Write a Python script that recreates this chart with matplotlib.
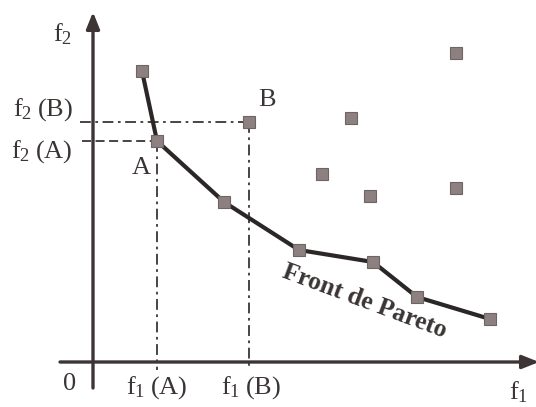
import matplotlib
matplotlib.use("Agg")
import matplotlib.pyplot as plt

plt.rcParams['font.family'] = ['Liberation Serif', 'DejaVu Serif']
plt.rcParams['mathtext.fontset'] = 'custom'
plt.rcParams['mathtext.rm'] = 'Liberation Serif'
plt.rcParams['mathtext.it'] = 'Liberation Serif:italic'
plt.rcParams['mathtext.bf'] = 'Liberation Serif:bold'

# Pareto front points (f1, f2)
front_f1 = [1.225, 1.6, 3.275, 5.15, 7.0, 8.1, 9.925]
front_f2 = [7.275, 5.525, 4.0, 2.8, 2.5, 1.625, 1.075]
# Dominated points
dom_f1 = [3.9, 9.075, 6.45, 5.725, 6.925, 9.075]
dom_f2 = [6.0, 7.725, 6.1, 4.7, 4.15, 4.35]
# Solutions A and B
A = (1.6, 5.525)
B = (3.9, 6.0)

TXT = '#3a3434'
AX = '#3d3535'
MK = '#8c8080'

fig = plt.figure(figsize=(5.36, 4.07), dpi=100)
ax = fig.add_axes([0, 0, 1, 1])
ax.set_xlim(-2.325, 11.075)
ax.set_ylim(-1.125, 9.05)
ax.axis('off')

# axes with arrows
ap = dict(arrowstyle='-|>,head_length=1.0,head_width=0.4',
          color=AX, lw=2.4, shrinkA=0, shrinkB=0)
ax.annotate('', xy=(0, 8.75), xytext=(0, -0.65), arrowprops=ap, annotation_clip=False)
ax.annotate('', xy=(11.15, 0), xytext=(-0.825, 0), arrowprops=ap, annotation_clip=False)

# guide lines
ax.plot([-0.325, B[0]], [B[1], B[1]], color=AX, lw=1.3, ls=(0, (6, 2.5, 1.5, 2.5)))
ax.plot([-0.275, A[0]], [A[1], A[1]], color=AX, lw=1.3, ls=(0, (5, 2.5)))
ax.plot([A[0], A[0]], [A[1], -0.2], color=AX, lw=1.3, ls=(0, (6, 2.5, 1.5, 2.5)))
ax.plot([B[0], B[0]], [B[1], -0.2], color=AX, lw=1.3, ls=(0, (6, 2.5, 1.5, 2.5)))

# Pareto front
ax.plot(front_f1, front_f2, color='#2b2727', lw=3.0, zorder=3)
ax.plot(front_f1, front_f2, ls='none', marker='s', ms=8.2, mfc=MK, mec='#6e6464',
        mew=0.8, zorder=4)
ax.plot(dom_f1, dom_f2, ls='none', marker='s', ms=8.2, mfc=MK, mec='#6e6464',
        mew=0.8, zorder=4)

fs = 19
ax.text(-0.75, 8.2, r'$\mathrm{f}_2$', fontsize=fs, color=TXT, ha='center', va='center')
ax.text(-0.5, 6.3, r'$\mathrm{f}_2\;(\mathrm{B})$', fontsize=fs, color=TXT, ha='right', va='center')
ax.text(-0.5, 5.25, r'$\mathrm{f}_2\;(\mathrm{A})$', fontsize=fs, color=TXT, ha='right', va='center')
ax.text(1.2, 4.85, 'A', fontsize=fs, color=TXT, ha='center', va='center')
ax.text(4.35, 6.55, 'B', fontsize=fs, color=TXT, ha='center', va='center')
ax.text(-0.575, -0.55, '0', fontsize=fs, color=TXT, ha='center', va='center')
ax.text(1.6, -0.65, r'$\mathrm{f}_1\;(\mathrm{A})$', fontsize=fs, color=TXT, ha='center', va='center')
ax.text(3.95, -0.65, r'$\mathrm{f}_1\;(\mathrm{B})$', fontsize=fs, color=TXT, ha='center', va='center')
ax.text(10.65, -0.75, r'$\mathrm{f}_1$', fontsize=fs, color=TXT, ha='center', va='center')
ax.text(6.78, 1.52, 'Front de Pareto', fontsize=18.5, fontweight='bold', color=TXT,
        ha='center', va='center', rotation=-20.5, rotation_mode='anchor')

fig.savefig('out.png', dpi=100)
